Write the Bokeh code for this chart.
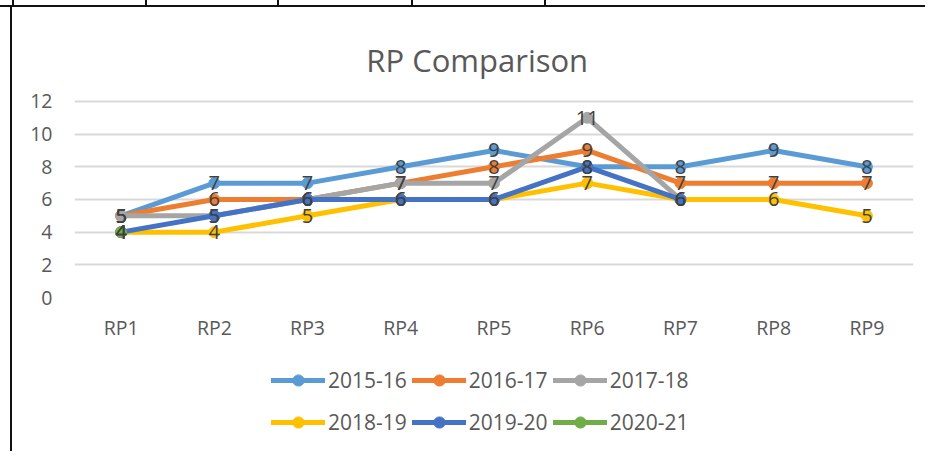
from bokeh.plotting import figure
from bokeh.layouts import column
from bokeh.models import (Range1d, FactorRange, Legend, LegendItem, Label,
                          ColumnDataSource, FixedTicker)
from bokeh.embed import file_html
from bokeh.resources import INLINE
from bokeh.core.properties import value
import math

NaN = float("nan")

categories = ["RP1", "RP2", "RP3", "RP4", "RP5", "RP6", "RP7", "RP8", "RP9"]
s2015_16 = [5, 7, 7, 8, 9, 8, 8, 9, 8]
s2016_17 = [5, 6, 6, 7, 8, 9, 7, 7, 7]
s2017_18 = [5, 5, 6, 7, 7, 11, 6, NaN, NaN]
s2018_19 = [4, 4, 5, 6, 6, 7, 6, 6, 5]
s2019_20 = [4, 5, 6, 6, 6, 8, 6, NaN, NaN]
s2020_21 = [4, NaN, NaN, NaN, NaN, NaN, NaN, NaN, NaN]
series_names = ["2015-16", "2016-17", "2017-18", "2018-19", "2019-20", "2020-21"]
series_values = [s2015_16, s2016_17, s2017_18, s2018_19, s2019_20, s2020_21]
y_ticks = [0, 2, 4, 6, 8, 10, 12]
title_text = "RP Comparison"

colors = ["#5B9BD5", "#ED7D31", "#A5A5A5", "#FFC000", "#4472C4", "#70AD47"]
FONT = "Open Sans"

W, H1, H2 = 925, 355, 96

# ---- main chart ----
p = figure(width=W, height=H1, x_range=FactorRange(*categories),
           y_range=Range1d(0, 18.18), output_backend="svg", toolbar_location=None,
           min_border_left=74, min_border_right=12, min_border_top=0,
           min_border_bottom=58, title=None)
p.outline_line_color = None
p.background_fill_color = None
p.border_fill_color = None

p.xgrid.grid_line_color = None
p.ygrid.grid_line_color = "#d9d9d9"
p.ygrid.grid_line_width = 2
p.yaxis.ticker = FixedTicker(ticks=y_ticks)

for ax in (p.xaxis[0], p.yaxis[0]):
    ax.axis_line_color = None
    ax.major_tick_line_color = None
    ax.minor_tick_line_color = None
    ax.major_tick_in = 0
    ax.major_tick_out = 0
    ax.minor_tick_in = 0
    ax.minor_tick_out = 0
    ax.major_label_text_font = FONT
    ax.major_label_text_font_size = "19.5px"
    ax.major_label_text_color = "#595959"
p.xaxis.major_label_standoff = 16
p.yaxis.major_label_standoff = 22

for name, vals, col in zip(series_names, series_values, colors):
    src = ColumnDataSource(dict(x=categories, y=vals))
    p.line("x", "y", source=src, line_color=col, line_width=5,
           line_join="round", line_cap="round")
    p.scatter("x", "y", source=src, marker="circle", size=11,
              fill_color=col, line_color=col)

for vals in series_values:
    xs = [c for c, v in zip(categories, vals) if not math.isnan(v)]
    ys = [v for v in vals if not math.isnan(v)]
    src = ColumnDataSource(dict(x=xs, y=ys, t=[str(int(v)) for v in ys]))
    p.text("x", "y", text="t", source=src, text_align="center",
           text_baseline="middle", text_font=value(FONT),
           text_font_size="20px", text_color="#404040")

p.add_layout(Label(x=4.32, y=14.52, text=title_text, text_align="center",
                   text_baseline="alphabetic", text_font=FONT,
                   text_font_size="31px", text_color="#595959"))

# ---- legend strip (series drawn again off-view; only their legend glyphs show) ----
q = figure(width=W, height=H2, x_range=Range1d(100, 101), y_range=Range1d(100, 101),
           output_backend="svg", toolbar_location=None, min_border=0,
           x_axis_location=None, y_axis_location=None, title=None)
q.outline_line_color = None
q.background_fill_color = None
q.border_fill_color = None
q.xgrid.grid_line_color = None
q.ygrid.grid_line_color = None

items = []
for name, vals, col in zip(series_names, series_values, colors):
    idx = list(range(len(vals)))
    lr = q.line(x=idx, y=vals, line_color=col, line_width=5, line_cap="round")
    sr = q.scatter(x=idx, y=vals, marker="circle", fill_color=col, line_color=col)
    items.append(LegendItem(label=name, renderers=[lr, sr]))

for rows_items, yloc in ((items[:3], 57), (items[3:], 15)):
    lg = Legend(items=rows_items, orientation="horizontal", location=(197, yloc),
                glyph_width=54, glyph_height=28, label_height=28,
                label_standoff=3, spacing=5, padding=0, margin=0,
                border_line_color=None, background_fill_alpha=0,
                label_text_font=FONT, label_text_font_size="21px",
                label_text_color="#595959")
    q.add_layout(lg, "center")

root = column(p, q, spacing=0)

# document table rules behind the chart (page decoration)
bars = [("2px", "100%", "10px", "5px"), ("100%", "2px", "0px", "5px")]
for xx in (12, 145, 277, 411, 544):
    bars.append(("2px", "5px", "%dpx" % xx, "0px"))
root.styles = {
    "background-color": "white",
    "background-image": ", ".join(["linear-gradient(#111, #111)"] * len(bars)),
    "background-size": ", ".join("%s %s" % (b[0], b[1]) for b in bars),
    "background-position": ", ".join("%s %s" % (b[2], b[3]) for b in bars),
    "background-repeat": "no-repeat",
}

open("out.html", "w").write(file_html(root, INLINE))
